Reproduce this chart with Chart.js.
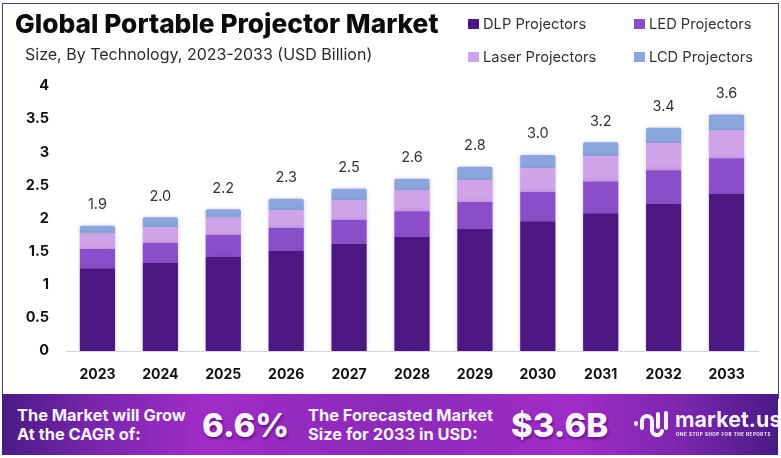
<!DOCTYPE html>
<html>
<head>
<meta charset="utf-8">
<title>Global Portable Projector Market</title>
<script src="https://cdn.jsdelivr.net/npm/chart.js@4"></script>
<style>
  html, body { margin: 0; padding: 0; background: #fff; }
  #page { position: relative; width: 781px; height: 458px; overflow: hidden; font-family: Inter, sans-serif; color: #111; }
  #frame { position: absolute; left: 2px; top: 3px; width: 775px; height: 395px; border: 1px solid #5b3a78; border-bottom: none; }
  canvas { position: absolute; left: 0; top: 0; }
  .abs { position: absolute; white-space: nowrap; }
  #title { left: 15px; top: 8px; font-size: 26.3px; font-weight: 800; line-height: 32px; color: #0c0c0c; }
  #subtitle { left: 25px; top: 43px; font-size: 16px; line-height: 22px; color: #2a2a2a; }
  .legend-item { position: absolute; font-size: 14.7px; line-height: 20px; color: #333; white-space: nowrap; }
  .legend-item i { position: absolute; left: -15px; top: 5px; width: 11px; height: 10px; }
  #banner { position: absolute; left: 2px; top: 394px; width: 776px; height: 61px;
    background: linear-gradient(90deg, #4a1a86 0%, #7a26ac 12%, #a02cc8 26%, #8c2ab8 50%, #a02cc8 74%, #7a26ac 88%, #4a1a86 100%); color: #fbf3ff; }
  .small { font-size: 16.4px; font-weight: 700; line-height: 19px; }
  .big { font-weight: 800; font-size: 33px; line-height: 40px; text-shadow: 1px 2px 3px rgba(40,0,70,.55); }
  #brand { font-size: 21.5px; font-weight: 700; line-height: 28px; }
  #tag { font-size: 4.5px; letter-spacing: .55px; font-weight: 700; }
</style>
</head>
<body>
<div id="page">
  <div id="frame"></div>
  <canvas id="projectorChart" width="781" height="458"></canvas>
  <div class="abs" id="title">Global Portable Projector Market</div>
  <div class="abs" id="subtitle">Size, By Technology, 2023-2033 (USD Billion)</div>
  <div id="legend"></div>
  <div id="banner">
    <div class="abs small" style="left:15px;top:12px">The Market will Grow<br>At the CAGR of:</div>
    <div class="abs big" style="left:200px;top:11px">6.6%</div>
    <div class="abs small" style="left:306px;top:12px">The Forecasted Market<br>Size for 2033 in USD:</div>
    <div class="abs big" style="left:509px;top:11px">$3.6B</div>
    <svg class="abs" style="left:631px;top:14px" width="38" height="32" viewBox="0 0 38 32" fill="none" stroke="#fbf3ff" stroke-width="4" stroke-linecap="round">
      <path d="M3 15 v1"/><path d="M9 20 v-7 a5 5 0 0 1 10 0 v8 a5 5 0 0 0 10 2"/><path d="M25 6 v13"/><path d="M33 5 v15"/>
    </svg>
    <div class="abs" id="brand" style="left:673px;top:11px">market.us</div>
    <div class="abs" id="tag" style="left:674px;top:38px">ONE STOP SHOP FOR THE REPORTS</div>
  </div>
</div>
<script>
const years = ['2023', '2024', '2025', '2026', '2027', '2028', '2029', '2030', '2031', '2032', '2033'];
const dlpValues = [1.25, 1.33, 1.42, 1.51, 1.62, 1.72, 1.84, 1.96, 2.08, 2.22, 2.37];
const ledValues = [0.29, 0.30, 0.33, 0.35, 0.36, 0.39, 0.41, 0.44, 0.48, 0.51, 0.54];
const laserValues = [0.23, 0.24, 0.26, 0.27, 0.30, 0.32, 0.33, 0.36, 0.38, 0.41, 0.42];
const lcdValues = [0.12, 0.15, 0.13, 0.17, 0.17, 0.17, 0.20, 0.20, 0.21, 0.23, 0.24];
const totalLabels = ['1.9', '2.0', '2.2', '2.3', '2.5', '2.6', '2.8', '3.0', '3.2', '3.4', '3.6'];
const yTicks = [0, 0.5, 1, 1.5, 2, 2.5, 3, 3.5, 4];

const seriesNames = ['DLP Projectors', 'LED Projectors', 'Laser Projectors', 'LCD Projectors'];
const seriesColors = ['#4d1782', '#8a4ec8', '#cfa3e8', '#8aa6dc'];
const legendSpots = [[483, 14], [649, 14], [483, 47], [649, 47]];

// legend sits in two rows next to the title
const legendBox = document.getElementById('legend');
seriesNames.forEach((name, i) => {
  const item = document.createElement('div');
  item.className = 'legend-item';
  item.style.left = legendSpots[i][0] + 'px';
  item.style.top = legendSpots[i][1] + 'px';
  item.innerHTML = `<i style="background:${seriesColors[i]}"></i>${name}`;
  legendBox.appendChild(item);
});

// soft glow around the bars
const barGlow = {
  id: 'barGlow',
  beforeDatasetsDraw(chart) {
    chart.ctx.save();
    chart.ctx.shadowColor = 'rgba(110,70,170,0.28)';
    chart.ctx.shadowBlur = 4;
  },
  afterDatasetsDraw(chart) {
    chart.ctx.restore();
  }
};

// total above every stack
const totalsOnTop = {
  id: 'totalsOnTop',
  afterDatasetsDraw(chart) {
    const ctx = chart.ctx;
    const last = chart.getDatasetMeta(3).data;
    ctx.save();
    ctx.font = '14.5px Inter, sans-serif';
    ctx.fillStyle = '#333';
    ctx.textAlign = 'center';
    ctx.textBaseline = 'middle';
    last.forEach((bar, i) => ctx.fillText(totalLabels[i], bar.x, bar.y - 21));
    ctx.restore();
  }
};

const datasetValues = [dlpValues, ledValues, laserValues, lcdValues];

new Chart(document.getElementById('projectorChart').getContext('2d'), {
  type: 'bar',
  data: {
    labels: years,
    datasets: seriesNames.map((name, i) => ({
      label: name,
      data: datasetValues[i],
      backgroundColor: seriesColors[i],
      borderRadius: i === 3 ? { topLeft: 2, topRight: 2 } : 0,
      borderSkipped: false,
      categoryPercentage: 1,
      barPercentage: 0.56
    }))
  },
  options: {
    responsive: false,
    animation: false,
    layout: { padding: { top: 86, right: 23, bottom: 67, left: 0 } },
    plugins: {
      legend: { display: false },
      title: { display: false },
      tooltip: { enabled: false }
    },
    scales: {
      x: {
        stacked: true,
        grid: { display: false, drawTicks: false },
        border: { color: '#d5d3dc', width: 1 },
        ticks: { color: '#111', padding: 15, maxRotation: 0, font: { family: 'Inter, sans-serif', size: 14, weight: '700' } },
        afterFit: scale => { scale.height = 40; }
      },
      y: {
        stacked: true,
        min: 0,
        max: 4,
        afterBuildTicks: scale => { scale.ticks = yTicks.map(value => ({ value })); },
        grid: { display: false, drawTicks: false },
        border: { display: false },
        ticks: { color: '#111', padding: 17, font: { family: 'Inter, sans-serif', size: 14.5, weight: '700' }, callback: v => String(v) },
        afterFit: scale => { scale.width = 66; }
      }
    }
  },
  plugins: [barGlow, totalsOnTop]
});
</script>
</body>
</html>
